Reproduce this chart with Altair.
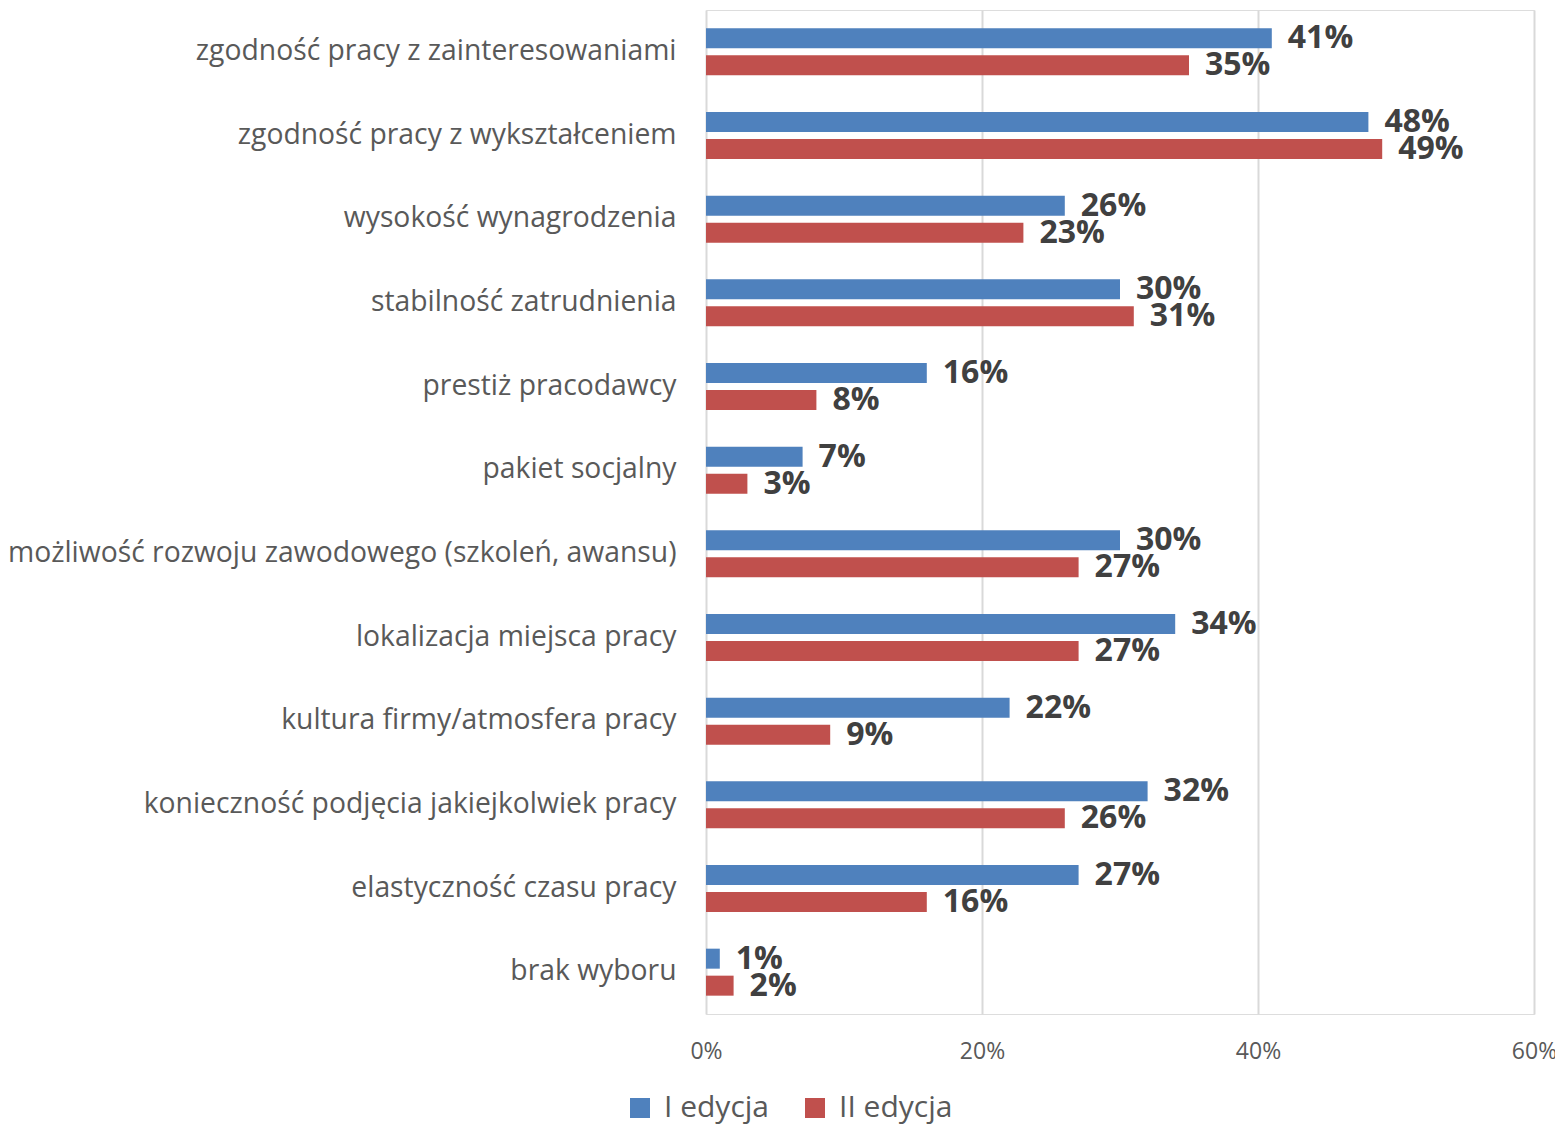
import altair as alt
import pandas as pd

categories = [
    "zgodność pracy z zainteresowaniami",
    "zgodność pracy z wykształceniem",
    "wysokość wynagrodzenia",
    "stabilność zatrudnienia",
    "prestiż pracodawcy",
    "pakiet socjalny",
    "możliwość rozwoju zawodowego (szkoleń, awansu)",
    "lokalizacja miejsca pracy",
    "kultura firmy/atmosfera pracy",
    "konieczność podjęcia jakiejkolwiek pracy",
    "elastyczność czasu pracy",
    "brak wyboru",
]
series = ["I edycja", "II edycja"]
edycja_1 = [0.41, 0.48, 0.26, 0.30, 0.16, 0.07, 0.30, 0.34, 0.22, 0.32, 0.27, 0.01]
edycja_2 = [0.35, 0.49, 0.23, 0.31, 0.08, 0.03, 0.27, 0.27, 0.09, 0.26, 0.16, 0.02]
colors = ["#4F81BD", "#C0504D"]

rows = []
for i, c in enumerate(categories):
    rows.append({"kat": c, "seria": series[0], "v": edycja_1[i]})
    rows.append({"kat": c, "seria": series[1], "v": edycja_2[i]})
df = pd.DataFrame(rows)

FONT = "Open Sans"

y_enc = alt.Y("kat:N", sort=categories, title=None,
              scale=alt.Scale(paddingInner=0, paddingOuter=0),
              axis=alt.Axis(labelFontSize=28.3, labelColor="#595959", labelFont=FONT,
                            labelPadding=30, ticks=False, domain=False, labelLimit=900))
yoff = alt.YOffset("seria:N", sort=series,
                   scale=alt.Scale(paddingInner=0.259, paddingOuter=0.679))
x_enc = alt.X("v:Q", title=None,
              scale=alt.Scale(domain=[0, 0.6], nice=False),
              axis=alt.Axis(values=[0, 0.2, 0.4, 0.6], format=".0%", labelFontSize=23,
                            labelColor="#595959", labelFont=FONT, labelPadding=26,
                            labelFlush=False,
                            ticks=False, domain=False, grid=True, gridColor="#D9D9D9",
                            gridWidth=2))

bars = alt.Chart(df).mark_bar().encode(
    y=y_enc, yOffset=yoff, x=x_enc,
    color=alt.Color("seria:N", sort=series,
                    scale=alt.Scale(domain=series, range=colors),
                    legend=alt.Legend(title=None, orient="none", direction="horizontal",
                                      legendX=-81, legendY=1083, symbolType="square",
                                      symbolSize=400, symbolStrokeWidth=0, padding=0,
                                      labelFontSize=30, labelFont=FONT, labelColor="#595959",
                                      columnPadding=30, labelOffset=9)),
)

labels = alt.Chart(df).mark_text(align="left", baseline="middle", dx=16, fontSize=32,
                                 fontWeight="bold", font=FONT, color="#404040").encode(
    y=alt.Y("kat:N", sort=categories), yOffset=alt.YOffset("seria:N", sort=series),
    x="v:Q", text=alt.Text("v:Q", format=".0%"),
)

chart = (bars + labels).properties(
    width=828, height=1004,
    autosize=alt.AutoSizeParams(type="none"),
    padding={"left": 698, "top": 2, "right": 21, "bottom": 112},
).configure_view(stroke=None).configure(background="white")

chart.save("out.html", embed_options={"renderer": "svg", "actions": False})
